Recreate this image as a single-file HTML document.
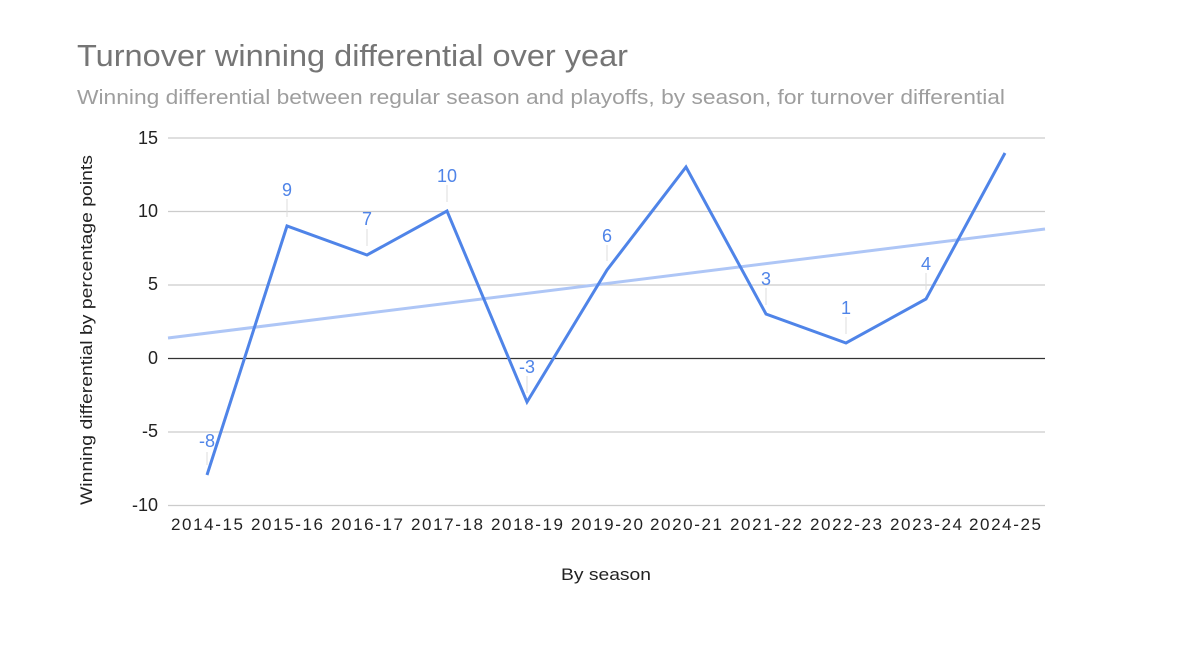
<!DOCTYPE html>
<html><head><meta charset="utf-8"><style>
html,body{margin:0;padding:0;background:#fff;}
svg{display:block;font-family:"Liberation Sans",Arial,sans-serif;}
</style></head><body>
<svg width="1200" height="650" viewBox="0 0 1200 650" xmlns="http://www.w3.org/2000/svg">
<rect width="1200" height="650" fill="#fff"/>
<text x="77" y="66" font-size="31" fill="#757575" textLength="551" lengthAdjust="spacingAndGlyphs">Turnover winning differential over year</text>
<text x="77" y="104" font-size="20" fill="#9e9e9e" textLength="928" lengthAdjust="spacingAndGlyphs">Winning differential between regular season and playoffs, by season, for turnover differential</text>
<g stroke="#cccccc" stroke-width="1.3">
<line x1="168" y1="138" x2="1045" y2="138"/>
<line x1="168" y1="211.5" x2="1045" y2="211.5"/>
<line x1="168" y1="285" x2="1045" y2="285"/>
<line x1="168" y1="432" x2="1045" y2="432"/>
<line x1="168" y1="505.5" x2="1045" y2="505.5"/>
</g>
<line x1="168" y1="358.5" x2="1045" y2="358.5" stroke="#333" stroke-width="1.3"/>
<g font-size="18" fill="#222" text-anchor="end">
<text x="158" y="144">15</text>
<text x="158" y="217">10</text>
<text x="158" y="290">5</text>
<text x="158" y="364">0</text>
<text x="158" y="437">-5</text>
<text x="158" y="511">-10</text>
</g>
<g font-size="17" fill="#222" text-anchor="middle" lengthAdjust="spacingAndGlyphs">
<text x="207" y="530" textLength="72">2014-15</text><text x="287" y="530" textLength="72">2015-16</text><text x="367" y="530" textLength="72">2016-17</text>
<text x="447" y="530" textLength="72">2017-18</text><text x="527" y="530" textLength="72">2018-19</text><text x="607" y="530" textLength="72">2019-20</text>
<text x="686" y="530" textLength="72">2020-21</text><text x="766" y="530" textLength="72">2021-22</text><text x="846" y="530" textLength="72">2022-23</text>
<text x="926" y="530" textLength="72">2023-24</text><text x="1005" y="530" textLength="72">2024-25</text>
</g>
<text x="606" y="580" font-size="17" fill="#222" text-anchor="middle" textLength="90" lengthAdjust="spacingAndGlyphs">By season</text>
<text transform="translate(92,330) rotate(-90)" font-size="17" fill="#222" text-anchor="middle" textLength="350" lengthAdjust="spacingAndGlyphs">Winning differential by percentage points</text>
<line x1="168" y1="338" x2="1045" y2="229" stroke="#aec6f6" stroke-width="3"/>
<g stroke="#dddddd" stroke-width="1">
<line x1="207" y1="452" x2="207" y2="465"/>
<line x1="287" y1="199" x2="287" y2="217"/>
<line x1="367" y1="229" x2="367" y2="246"/>
<line x1="447" y1="185" x2="447" y2="202"/>
<line x1="527" y1="376" x2="527" y2="393"/>
<line x1="607" y1="245" x2="607" y2="261"/>
<line x1="766" y1="288" x2="766" y2="305"/>
<line x1="846" y1="317" x2="846" y2="334"/>
<line x1="926" y1="273" x2="926" y2="290"/>
</g>
<polyline fill="none" stroke="#4f84e8" stroke-width="3" stroke-linejoin="miter"
points="207,475 287,226 367,255 447,211 527,402 607,270 686,167 766,314 846,343 926,299 1005,153"/>
<g font-size="18" fill="#4f84e8" text-anchor="middle">
<text x="207" y="447">-8</text>
<text x="287" y="196">9</text>
<text x="367" y="225">7</text>
<text x="447" y="182">10</text>
<text x="527" y="373">-3</text>
<text x="607" y="242">6</text>
<text x="766" y="285">3</text>
<text x="846" y="314">1</text>
<text x="926" y="270">4</text>
</g>
</svg>
</body></html>
